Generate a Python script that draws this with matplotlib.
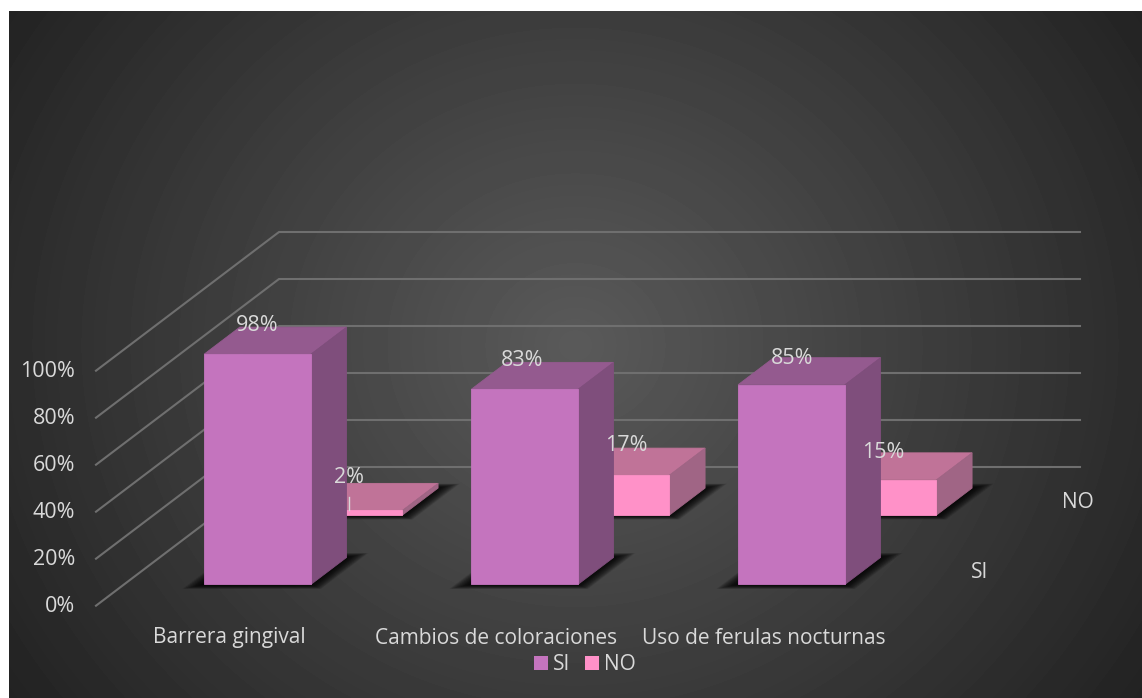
import numpy as np
import matplotlib
matplotlib.use('Agg')
import matplotlib.pyplot as plt
from matplotlib.patches import Patch

# 數據
categories = ['Barrera gingival', 'Cambios de coloraciones', 'Uso de ferulas nocturnas']
series_names = ['SI', 'NO']
si_values = [98, 83, 85]
no_values = [2, 17, 15]
y_ticks = [0, 20, 40, 60, 80, 100]

# 標籤微調 (像素)
si_label_nudge = [(0, -29), (-2, -29), (1, -26)]
no_label_nudge = [(0, -33), (10, -30), (0, -27)]

plt.rcParams['font.family'] = ['Open Sans', 'DejaVu Sans']
TEXT = '#D9D9D9'
GRID = '#6F6F6F'
SI_COLORS = ('#C474BE', '#945A8F', '#7F4E7C')
NO_COLORS = ('#FF91C8', '#C07398', '#A06585')


def project(x, v, d):
    # 斜投影: 類別 x, 數值 v, 深度 d -> 像素
    return 96 + 267 * x + 183 * d, 605.7 - 2.35 * v - 138.7 * d


def face(ax, pts, color, z):
    xy = [project(*p) for p in pts]
    ax.fill([p[0] for p in xy], [p[1] for p in xy], facecolor=color, edgecolor=color, linewidth=0.6, zorder=z)


def shadow(ax, x0, x1, d0, d1, z):
    for e in np.linspace(0.5, 16, 26):
        ex = e / 267
        ed = e * 0.002
        xy = [project(x0 - ex, 0, d0 - ed), project(x1 + ex, 0, d0 - ed),
              project(x1 + ex, 0, d1 + ed), project(x0 - ex, 0, d1 + ed)]
        ax.fill([p[0] for p in xy], [p[1] for p in xy], facecolor='black', edgecolor='none', alpha=0.06, zorder=z)


def bar3d(ax, i, v, d0, colors, z):
    x0, x1 = i + 0.3, i + 0.7
    d1 = d0 + 0.195
    shadow(ax, x0, x1, d0, d1, z)
    face(ax, [(x0, v, d0), (x1, v, d0), (x1, v, d1), (x0, v, d1)], colors[1], z + 0.1)
    face(ax, [(x1, 0, d0), (x1, v, d0), (x1, v, d1), (x1, 0, d1)], colors[2], z + 0.1)
    face(ax, [(x0, 0, d0), (x1, 0, d0), (x1, v, d0), (x0, v, d0)], colors[0], z + 0.2)


fig = plt.figure(figsize=(11.42, 6.98), dpi=100, facecolor='white')
ax = fig.add_axes([0, 0, 1, 1])

# 背景漸變
yy, xx = np.mgrid[11:698, 9:1142]
r = np.sqrt(((xx - 575) / 590) ** 2 + ((yy - 345) / 540) ** 2)
bg = 90 - 48 * np.clip(r, 0, 1.15)
ax.imshow(bg, cmap='gray', vmin=0, vmax=255, extent=(9, 1142, 698, 11), aspect='auto', zorder=0)
ax.set_xlim(0, 1142)
ax.set_ylim(698, 0)
ax.axis('off')

# 網格線
n = len(categories)
for t in y_ticks:
    a = project(0, t, 0)
    b = project(0, t, 1)
    c = project(n, t, 1)
    ax.plot([a[0], b[0], c[0]], [a[1], b[1], c[1]], color=GRID, lw=1.5, zorder=1)
    ax.text(a[0] - 21, a[1] + 1, f'{t}%', color=TEXT, fontsize=15.5, ha='right', va='center', zorder=5)

# 後排先畫
for i, v in enumerate(no_values):
    bar3d(ax, i, v, 0.653, NO_COLORS, 2)
for i, v in enumerate(si_values):
    bar3d(ax, i, v, 0.153, SI_COLORS, 3)

# 數據標籤
for i in range(n):
    px, py = project(i + 0.5, si_values[i], 0.153)
    dx, dy = si_label_nudge[i]
    ax.text(px + dx, py + dy, f'{si_values[i]}%', color=TEXT, fontsize=15.5, ha='center', va='center', zorder=6)
    px, py = project(i + 0.5, no_values[i], 0.653)
    dx, dy = no_label_nudge[i]
    ax.text(px + dx, py + dy, f'{no_values[i]}%', color=TEXT, fontsize=15.5, ha='center', va='center', zorder=6)

# 2% 的引導線
px, py = project(0.5, no_values[0], 0.653)
ax.plot([px, px], [py - 13, py], color=TEXT, lw=1, zorder=6)

# 類別和系列標籤
for i, name in enumerate(categories):
    px, py = project(i + 0.5, 0, 0)
    ax.text(px, 638, name, color=TEXT, fontsize=15, ha='center', va='center', zorder=5)
for name, d in zip(series_names, [0.25, 0.75]):
    px, py = project(n, 0, d)
    ax.text(px + 28, py + 1, name, color=TEXT, fontsize=15, ha='left', va='center', zorder=5)

handles = [Patch(facecolor=SI_COLORS[0], label='SI'), Patch(facecolor=NO_COLORS[0], label='NO')]
ax.legend(handles=handles, loc='center', bbox_to_anchor=(585, 665), bbox_transform=ax.transData, ncol=2,
          frameon=False, fontsize=15, labelcolor=TEXT, handlelength=0.67, handleheight=0.67,
          handletextpad=0.24, columnspacing=0.72, borderpad=0, borderaxespad=0)

fig.savefig('out.png', dpi=100, facecolor='white')
